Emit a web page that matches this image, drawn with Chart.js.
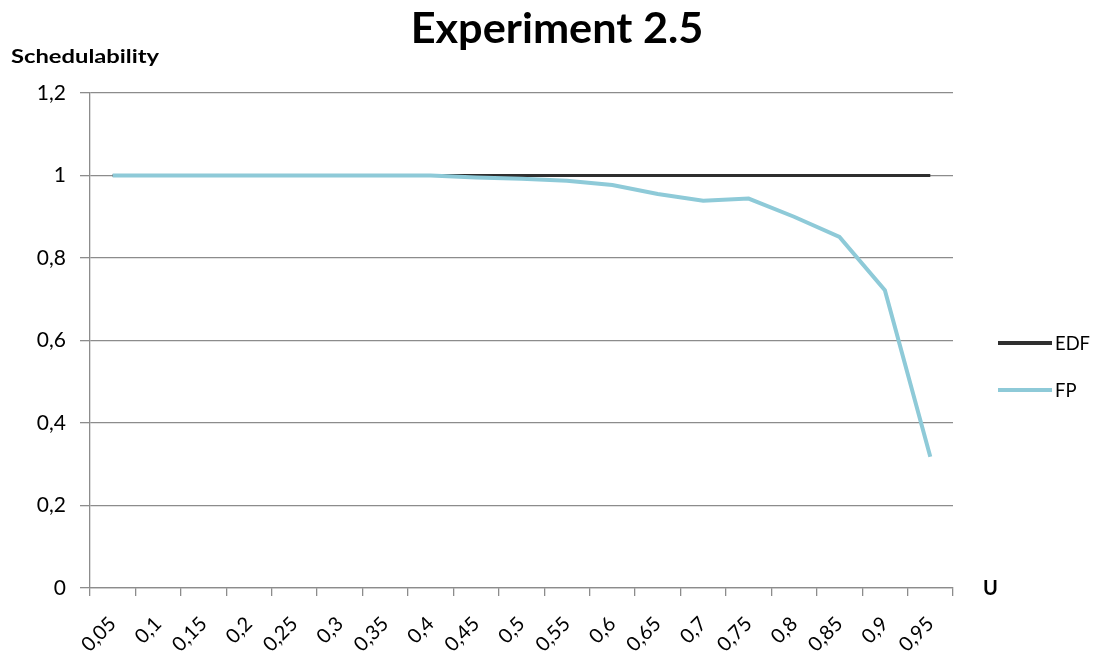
<!DOCTYPE html>
<html>
<head>
<meta charset="utf-8">
<script src="https://cdn.jsdelivr.net/npm/chart.js@4"></script>
<style>
  html, body { margin: 0; padding: 0; background: #ffffff; }
  #wrap { width: 1097px; height: 657px; position: relative; }
</style>
</head>
<body>
<div id="wrap"><canvas id="chart" width="1097" height="657"></canvas></div>
<script>
// Utilization levels (x categories)
const utilization = ['0,05','0,1','0,15','0,2','0,25','0,3','0,35','0,4','0,45','0,5',
                     '0,55','0,6','0,65','0,7','0,75','0,8','0,85','0,9','0,95'];
// Schedulability ratio per algorithm
const edfValues = [1,1,1,1,1,1,1,1,1,1,1,1,1,1,1,1,1,1,1];
const fpValues  = [1,1,1,1,1,1,1,1,0.995,0.992,0.987,0.977,0.955,0.939,0.944,0.900,0.851,0.722,0.318];
// Y axis range and step
const yMin = 0, yMax = 1.2, yStep = 0.2;

const FONT = 'Lato, "Open Sans", "DejaVu Sans", sans-serif';
const EDF_COLOR = '#2f2f2f';
const FP_COLOR = '#8ecad8';

// Draws text with an optional horizontal stretch
function drawText(ctx, text, x, y, font, align, stretch) {
  ctx.save();
  ctx.font = font;
  ctx.textAlign = align;
  ctx.translate(x, y);
  ctx.scale(stretch || 1, 1);
  ctx.fillText(text, 0, 0);
  ctx.restore();
}

// Title, axis captions and legend drawn around the plot area
const decorations = {
  id: 'decorations',
  afterDraw(chart) {
    const ctx = chart.ctx;
    const area = chart.chartArea;
    ctx.save();
    ctx.fillStyle = '#000000';
    ctx.textBaseline = 'alphabetic';

    drawText(ctx, 'Experiment 2.5', 557, 43, 'bold 42px ' + FONT, 'center', 1.03);
    drawText(ctx, 'Schedulability', 11, 63, 'bold 19px ' + FONT, 'left', 1.25);
    drawText(ctx, 'U', 983, area.bottom + 7, 'bold 20px ' + FONT, 'left', 1);

    // legend
    const items = chart.data.datasets;
    const rows = [343, 390];
    items.forEach((ds, i) => {
      ctx.strokeStyle = ds.borderColor;
      ctx.lineWidth = 4;
      ctx.beginPath();
      ctx.moveTo(998, rows[i]);
      ctx.lineTo(1052, rows[i]);
      ctx.stroke();
      ctx.fillStyle = '#000000';
      drawText(ctx, ds.label, 1055, rows[i] + 7, '20px ' + FONT, 'left', 0.92);
    });
    ctx.restore();
  }
};

new Chart(document.getElementById('chart'), {
  type: 'line',
  data: {
    labels: utilization,
    datasets: [
      { label: 'EDF', data: edfValues, borderColor: EDF_COLOR, borderWidth: 3,
        pointRadius: 0, tension: 0, order: 1 },
      { label: 'FP', data: fpValues, borderColor: FP_COLOR, borderWidth: 4,
        pointRadius: 0, tension: 0, order: 0 }
    ]
  },
  options: {
    responsive: false,
    animation: false,
    layout: { padding: { top: 93, right: 144, left: 0, bottom: 0 } },
    plugins: {
      legend: { display: false },
      title: { display: false },
      tooltip: { enabled: false }
    },
    scales: {
      x: {
        type: 'category',
        offset: true,
        grid: { display: true, offset: true, drawOnChartArea: false, drawTicks: true,
                tickLength: 8, color: '#8c8c8c', lineWidth: 1.3 },
        border: { display: true, color: '#8c8c8c', width: 1.3 },
        ticks: { color: '#000000', font: { family: FONT, size: 20 },
                 minRotation: 45, maxRotation: 45, autoSkip: false, padding: 16 },
        afterFit(scale) { scale.height = 69; }
      },
      y: {
        min: yMin, max: yMax,
        grid: { color: '#8c8c8c', lineWidth: 1.3, drawTicks: true, tickLength: 10 },
        border: { display: true, color: '#8c8c8c', width: 1.3 },
        ticks: { stepSize: yStep, color: '#000000', font: { family: FONT, size: 21 },
                 padding: 14,
                 callback: v => String(Math.round(v * 10) / 10).replace('.', ',') },
        afterFit(scale) { scale.width = 90; }
      }
    }
  },
  plugins: [decorations]
});
</script>
</body>
</html>
